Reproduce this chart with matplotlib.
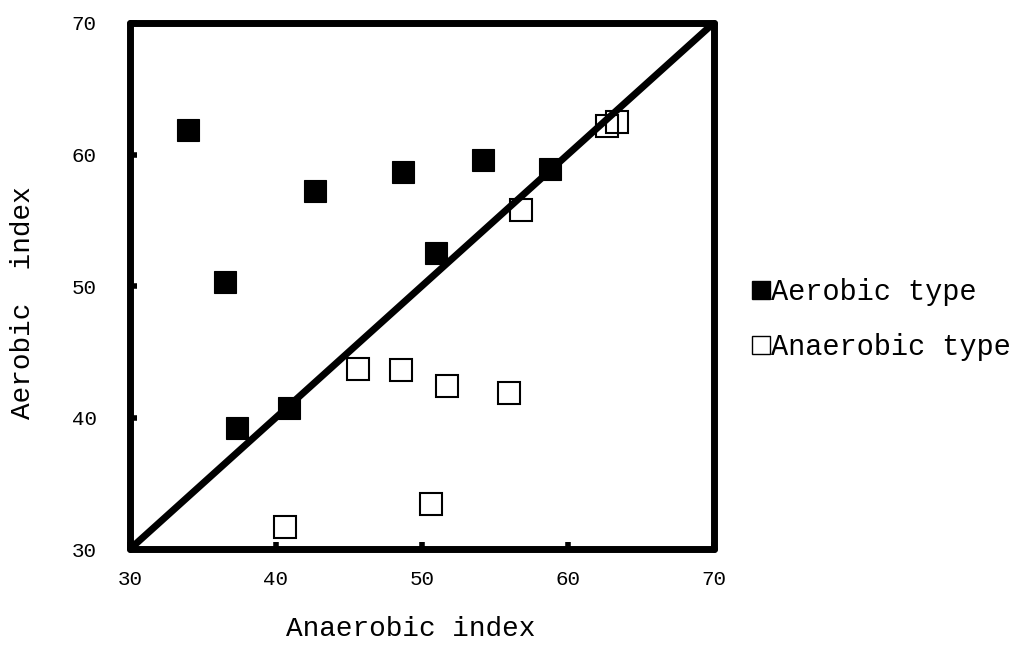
import matplotlib
matplotlib.use("Agg")
import matplotlib.pyplot as plt
from matplotlib.lines import Line2D

plt.rcParams['font.family'] = ['Liberation Mono', 'DejaVu Sans Mono']

# Aerobic type (filled squares)
aerobic_x = [34.0, 36.5, 37.3, 40.9, 42.7, 48.7, 51.0, 54.2, 58.8]
aerobic_y = [61.9, 50.3, 39.2, 40.7, 57.2, 58.7, 52.5, 59.6, 58.9]

# Anaerobic type (open squares)
anaerobic_x = [40.6, 50.6, 45.6, 48.6, 51.7, 56.0, 56.8, 62.7, 63.4]
anaerobic_y = [31.7, 33.4, 43.7, 43.6, 42.4, 41.9, 55.8, 62.2, 62.5]

ticks = [30, 40, 50, 60, 70]
diag = [30, 70]

fig = plt.figure(figsize=(10.17, 6.46), dpi=100)
ax = fig.add_axes([0.1278, 0.150, 0.574, 0.8144])

# 1:1 line
ax.plot(diag, diag, color='black', lw=5, solid_capstyle='butt', zorder=2, clip_on=False)

ax.plot(aerobic_x, aerobic_y, linestyle='none', marker='s', markersize=16,
        markerfacecolor='black', markeredgecolor='black', markeredgewidth=0.8, zorder=3)
ax.plot(anaerobic_x, anaerobic_y, linestyle='none', marker='s', markersize=15.5,
        markerfacecolor='none', markeredgecolor='black', markeredgewidth=1.5, zorder=3)

ax.set_xlim(30, 70)
ax.set_ylim(30, 70)
ax.set_xticks(ticks)
ax.set_yticks(ticks)
ax.tick_params(direction='in', length=5, width=4, labelsize=15)
ax.tick_params(axis='x', pad=15)
ax.tick_params(axis='y', pad=24)

for s in ax.spines.values():
    s.set_linewidth(5)
    s.set_capstyle('round')

ax.set_xlabel("Anaerobic index", fontsize=20)
ax.set_ylabel("Aerobic  index", fontsize=20)
ax.xaxis.set_label_coords(0.481, -0.128)
ax.yaxis.set_label_coords(-0.161, 0.468)

handles = [
    Line2D([], [], linestyle='none', marker='s', markersize=13,
           markerfacecolor='black', markeredgecolor='black'),
    Line2D([], [], linestyle='none', marker='s', markersize=13,
           markerfacecolor='white', markeredgecolor='black', markeredgewidth=1),
]
fig.legend(handles, ["Aerobic type", "Anaerobic type"], loc='center left',
           bbox_to_anchor=(0.7225, 0.505), frameon=False, fontsize=20.6,
           handlelength=0.8, handletextpad=-0.05, labelspacing=0.95, borderpad=0)

fig.savefig("out.png", dpi=100)
